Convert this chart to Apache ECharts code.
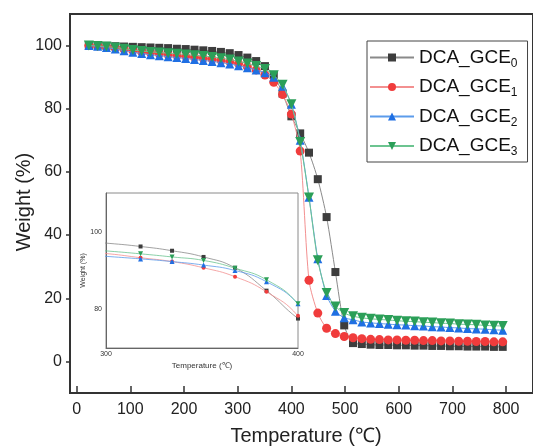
<!DOCTYPE html>
<html>
<head>
<meta charset="utf-8">
<script src="https://cdn.jsdelivr.net/npm/echarts@6/dist/echarts.min.js"></script>
<style>
  html, body { margin: 0; padding: 0; background: #fff; }
  #chart { width: 533px; height: 446px; }
</style>
</head>
<body>
<div id="chart"></div>
<script>
// Temperature sampling points (°C)
const temps = [22.8, 39.2, 55.6, 72.0, 88.4, 104.8, 121.2, 137.6, 154.0, 170.4, 186.8, 203.2,
  219.6, 236.0, 252.4, 268.8, 285.2, 301.6, 318.0, 334.4, 350.8, 367.2, 383.6, 400.0,
  416.4, 432.8, 449.2, 465.6, 482.0, 498.4, 514.8, 531.2, 547.6, 564.0, 580.4, 596.8,
  613.2, 629.6, 646.0, 662.4, 678.8, 695.2, 711.6, 728.0, 744.4, 760.8, 777.2, 793.6];

// Residual weight (%) for each sample
const gce0 = [100.0, 100.0, 99.9, 99.8, 99.7, 99.6, 99.5, 99.4, 99.3, 99.2, 99.0, 98.9,
  98.7, 98.5, 98.3, 98.0, 97.6, 97.0, 96.2, 95.1, 93.5, 90.7, 84.8, 77.6,
  72.2, 66.1, 57.7, 45.7, 28.3, 11.4, 5.8, 5.5, 5.3, 5.2, 5.2, 5.1,
  5.1, 5.0, 5.0, 4.9, 4.9, 4.8, 4.8, 4.7, 4.7, 4.7, 4.6, 4.6];
const gce1 = [100.0, 99.9, 99.6, 99.2, 98.8, 98.4, 98.0, 97.7, 97.4, 97.1, 96.8, 96.6,
  96.3, 96.0, 95.7, 95.3, 94.9, 94.3, 93.3, 92.3, 90.7, 88.4, 84.5, 78.3,
  66.6, 25.7, 15.3, 10.5, 8.8, 7.9, 7.5, 7.2, 7.0, 6.9, 6.8, 6.8,
  6.7, 6.7, 6.6, 6.6, 6.5, 6.5, 6.4, 6.4, 6.3, 6.3, 6.2, 6.2];
const gce2 = [100.0, 99.8, 99.4, 98.9, 98.4, 97.9, 97.5, 97.1, 96.8, 96.5, 96.2, 95.9,
  95.6, 95.3, 95.0, 94.6, 94.2, 93.6, 93.0, 92.3, 91.4, 90.0, 87.1, 81.4,
  70.0, 52.0, 32.5, 20.9, 15.9, 13.8, 13.2, 12.5, 12.2, 12.0, 11.8, 11.6,
  11.5, 11.3, 11.2, 11.0, 10.9, 10.7, 10.6, 10.4, 10.3, 10.2, 10.0, 9.9];
const gce3 = [100.0, 99.9, 99.7, 99.4, 99.0, 98.6, 98.3, 98.0, 97.8, 97.6, 97.4, 97.2,
  96.9, 96.7, 96.4, 96.0, 95.6, 95.0, 94.3, 93.5, 92.6, 90.6, 87.6, 81.4,
  69.5, 51.9, 32.0, 21.7, 17.4, 15.3, 14.3, 13.8, 13.5, 13.3, 13.1, 12.9,
  12.7, 12.6, 12.4, 12.3, 12.1, 12.0, 11.8, 11.7, 11.6, 11.4, 11.3, 11.2];

const seriesNames = ['DCA_GCE0', 'DCA_GCE1', 'DCA_GCE2', 'DCA_GCE3'];
const xTicks = [0, 100, 200, 300, 400, 500, 600, 700, 800];
const yTicks = [0, 20, 40, 60, 80, 100];
const insetXTicks = [300, 400];
const insetYTicks = [80, 100];

const FONT = '"Liberation Sans", Arial, sans-serif';

const styles = [
  { data: gce0, symbol: 'rect', size: 8, rot: 0, mark: '#3d3d3d', line: '#8a8a8a' },
  { data: gce1, symbol: 'circle', size: 9, rot: 0, mark: '#f03c3c', line: '#f39090' },
  { data: gce2, symbol: 'triangle', size: 9, rot: 0, mark: '#1f6fe3', line: '#5c9ceb' },
  { data: gce3, symbol: 'triangle', size: 10, rot: 180, mark: '#2b9f58', line: '#6cc490' }
];

const pairs = arr => temps.map((t, i) => [t, arr[i]]);

const mainSeries = styles.map((s, i) => ({
  name: seriesNames[i],
  type: 'line',
  xAxisIndex: 0, yAxisIndex: 0,
  data: pairs(s.data),
  smooth: 0.25,
  symbol: s.symbol,
  symbolSize: s.size,
  symbolRotate: s.rot,
  showAllSymbol: true,
  lineStyle: { color: s.line, width: 1 },
  itemStyle: { color: s.mark },
  z: 3 + i,
  animation: false
}));

const insetSeries = styles.map((s, i) => ({
  name: seriesNames[i],
  type: 'line',
  xAxisIndex: 1, yAxisIndex: 1,
  data: pairs(s.data),
  smooth: 0.5,
  symbol: s.symbol,
  symbolSize: v => (v[0] < 310 ? 0 : (s.symbol === 'triangle' ? 5 : 4)),
  symbolRotate: s.rot,
  showAllSymbol: true,
  clip: true,
  lineStyle: { color: s.line, width: 0.8 },
  itemStyle: { color: s.mark },
  z: 20 + i,
  animation: false,
  silent: true
}));

const chart = echarts.init(document.getElementById('chart'), null, { renderer: 'canvas' });

chart.setOption({
  backgroundColor: '#fff',
  animation: false,
  textStyle: { fontFamily: FONT },
  grid: [
    { left: 70, top: 14, right: -7, bottom: 53, show: true, borderColor: '#333', borderWidth: 2, backgroundColor: 'transparent' },
    { left: 106, top: 193, width: 192, height: 155, show: true, borderColor: '#8a8a8a', borderWidth: 1, backgroundColor: '#fff', z: 10 }
  ],
  xAxis: [
    {
      type: 'value', gridIndex: 0, min: -12.3, max: 850,
      axisLine: { show: true, onZero: false, lineStyle: { color: '#333', width: 2 } },
      axisTick: { show: true, inside: true, length: 7, customValues: xTicks, lineStyle: { color: '#333', width: 1.5 } },
      axisLabel: { customValues: xTicks, fontSize: 16, color: '#222', margin: 9, fontFamily: FONT },
      splitLine: { show: false }
    },
    {
      type: 'value', gridIndex: 1, min: 300, max: 400,
      axisLine: { show: true, onZero: false, lineStyle: { color: '#666', width: 1 } },
      axisTick: { show: false },
      axisLabel: { customValues: insetXTicks, fontSize: 7, color: '#333', margin: 3, fontFamily: FONT },
      splitLine: { show: false },
      name: 'Temperature (℃)', nameLocation: 'middle', nameGap: 14,
      nameTextStyle: { fontSize: 8, color: '#333', fontFamily: FONT },
      z: 12
    }
  ],
  yAxis: [
    {
      type: 'value', gridIndex: 0, min: -10, max: 110,
      axisLine: { show: true, onZero: false, lineStyle: { color: '#333', width: 2 } },
      axisTick: { show: true, inside: false, length: 4, customValues: yTicks, lineStyle: { color: '#333', width: 1.5 } },
      axisLabel: { customValues: yTicks, fontSize: 16, color: '#222', margin: 8, fontFamily: FONT },
      splitLine: { show: false }
    },
    {
      type: 'value', gridIndex: 1, min: 70, max: 110,
      axisLine: { show: true, onZero: false, lineStyle: { color: '#666', width: 1 } },
      axisTick: { show: false },
      axisLabel: { customValues: insetYTicks, fontSize: 7, color: '#333', margin: 4, fontFamily: FONT },
      splitLine: { show: false },
      name: 'Weight (%)', nameLocation: 'middle', nameGap: 17,
      nameTextStyle: { fontSize: 7, color: '#333', fontFamily: FONT },
      z: 12
    }
  ],
  legend: {
    data: seriesNames,
    orient: 'vertical',
    left: 367, top: 41,
    padding: [7, 10, 4, 2],
    itemGap: 8,
    itemWidth: 44,
    itemHeight: 10,
    borderColor: '#444',
    borderWidth: 1,
    backgroundColor: '#fff',
    formatter: name => '{b|' + name.slice(0, -1) + '}{s|' + name.slice(-1) + '}',
    textStyle: {
      color: '#111',
      rich: {
        b: { fontSize: 19, lineHeight: 24, verticalAlign: 'middle', fontFamily: FONT, color: '#111' },
        s: { fontSize: 12, lineHeight: 14, verticalAlign: 'bottom', fontFamily: FONT, color: '#111' }
      }
    }
  },
  graphic: [
    { type: 'text', x: 24, y: 202, rotation: Math.PI / 2, style: { text: 'Weight (%)', fontSize: 20, fontFamily: FONT, fill: '#222', align: 'center', verticalAlign: 'middle' } },
    { type: 'text', x: 306, y: 436, style: { text: 'Temperature (℃)', fontSize: 20, fontFamily: FONT, fill: '#222', align: 'center', verticalAlign: 'middle' } }
  ],
  series: mainSeries.concat(insetSeries)
});
</script>
</body>
</html>
